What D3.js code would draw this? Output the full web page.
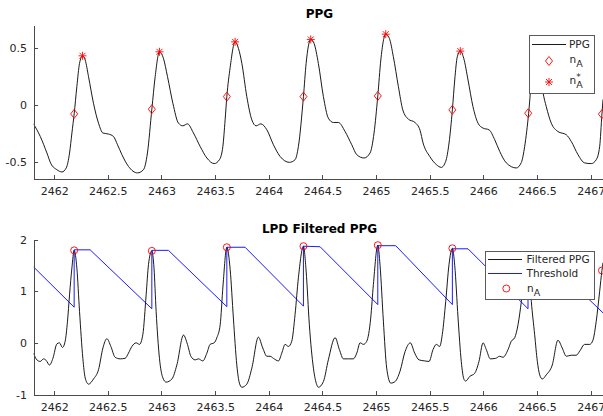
<!DOCTYPE html>
<html><head><meta charset="utf-8">
<script src="https://cdn.jsdelivr.net/npm/d3@7"></script>
<style>
body{margin:0;background:#fff}
svg{display:block;font-family:"DejaVu Sans",sans-serif}
</style>
</head><body>
<svg id="c" width="603" height="416"></svg>
<script>
// ---------- data ----------
const ppgTime=[2461.807,2461.870,2461.932,2461.969,2462.025,2462.072,2462.112,2462.143,2462.165,2462.186,2462.211,2462.236,2462.264,2462.289,2462.320,2462.366,2462.413,2462.454,2462.506,2462.552,2462.590,2462.631,2462.692,2462.776,2462.832,2462.869,2462.910,2462.941,2462.981,2463.018,2463.056,2463.106,2463.158,2463.199,2463.242,2463.298,2463.360,2463.423,2463.491,2463.540,2463.572,2463.593,2463.609,2463.640,2463.686,2463.717,2463.749,2463.795,2463.842,2463.882,2463.926,2463.982,2464.043,2464.105,2464.192,2464.245,2464.276,2464.323,2464.348,2464.391,2464.422,2464.462,2464.509,2464.555,2464.602,2464.649,2464.711,2464.773,2464.820,2464.888,2464.944,2464.981,2465.016,2465.044,2465.090,2465.124,2465.161,2465.208,2465.249,2465.301,2465.363,2465.410,2465.438,2465.500,2465.562,2465.608,2465.649,2465.680,2465.711,2465.733,2465.757,2465.785,2465.817,2465.857,2465.903,2465.950,2465.997,2466.053,2466.106,2466.152,2466.214,2466.307,2466.354,2466.385,2466.422,2466.455,2466.490,2466.528,2466.556,2466.586,2466.633,2466.695,2466.773,2466.819,2466.882,2466.944,2467.006,2467.052,2467.084,2467.105,2467.115];
const ppgValue=[-0.163,-0.273,-0.417,-0.510,-0.563,-0.583,-0.548,-0.418,-0.243,-0.076,0.162,0.365,0.431,0.394,0.249,0.017,-0.157,-0.243,-0.252,-0.273,-0.345,-0.432,-0.534,-0.591,-0.563,-0.417,-0.035,0.249,0.466,0.409,0.249,0.017,-0.157,-0.180,-0.163,-0.243,-0.360,-0.461,-0.510,-0.476,-0.360,-0.128,0.075,0.330,0.553,0.496,0.365,0.075,-0.128,-0.180,-0.163,-0.215,-0.345,-0.447,-0.499,-0.476,-0.360,0.075,0.365,0.574,0.539,0.365,0.075,-0.113,-0.151,-0.151,-0.230,-0.345,-0.432,-0.461,-0.417,-0.243,0.081,0.394,0.620,0.583,0.423,0.162,-0.041,-0.122,-0.151,-0.220,-0.330,-0.447,-0.519,-0.543,-0.490,-0.330,-0.041,0.220,0.423,0.472,0.409,0.220,-0.012,-0.157,-0.200,-0.215,-0.302,-0.403,-0.504,-0.548,-0.500,-0.360,-0.070,0.300,0.500,0.300,0.110,-0.012,-0.157,-0.230,-0.258,-0.316,-0.432,-0.504,-0.510,-0.476,-0.360,-0.078,0.050];

const filtTime=[2461.807,2461.839,2461.870,2461.900,2461.925,2461.956,2461.988,2462.025,2462.049,2462.077,2462.102,2462.124,2462.143,2462.165,2462.186,2462.211,2462.236,2462.267,2462.289,2462.320,2462.366,2462.413,2462.454,2462.491,2462.528,2462.568,2462.615,2462.661,2462.692,2462.724,2462.764,2462.795,2462.826,2462.857,2462.879,2462.910,2462.930,2462.950,2462.981,2463.013,2463.043,2463.097,2463.143,2463.205,2463.242,2463.274,2463.314,2463.344,2463.385,2463.423,2463.453,2463.491,2463.516,2463.547,2463.573,2463.609,2463.640,2463.670,2463.702,2463.726,2463.749,2463.795,2463.842,2463.903,2463.944,2463.982,2464.012,2464.043,2464.090,2464.121,2464.152,2464.183,2464.214,2464.245,2464.276,2464.323,2464.348,2464.378,2464.416,2464.447,2464.462,2464.509,2464.555,2464.618,2464.658,2464.695,2464.742,2464.788,2464.820,2464.851,2464.882,2464.913,2464.950,2464.975,2465.016,2465.037,2465.068,2465.099,2465.137,2465.177,2465.223,2465.270,2465.319,2465.360,2465.400,2465.454,2465.494,2465.531,2465.562,2465.593,2465.617,2465.649,2465.680,2465.711,2465.733,2465.764,2465.794,2465.820,2465.835,2465.873,2465.919,2465.959,2465.997,2466.027,2466.065,2466.115,2466.152,2466.183,2466.230,2466.260,2466.292,2466.323,2466.354,2466.383,2466.418,2466.447,2466.478,2466.503,2466.525,2466.549,2466.586,2466.642,2466.695,2466.735,2466.773,2466.819,2466.866,2466.898,2466.944,2466.991,2467.021,2467.052,2467.084,2467.105,2467.115];
const filtValue=[-0.20,-0.33,-0.36,-0.31,-0.34,-0.43,-0.30,-0.02,0.00,-0.09,0.03,0.42,0.93,1.45,1.79,1.45,0.61,-0.30,-0.68,-0.80,-0.70,-0.52,-0.10,0.08,-0.07,-0.28,-0.31,-0.30,-0.20,-0.07,0.00,-0.03,0.16,0.93,1.52,1.78,1.45,0.61,-0.30,-0.68,-0.76,-0.70,-0.43,0.15,-0.03,-0.26,-0.33,-0.31,-0.35,-0.20,-0.03,0.00,0.10,0.35,1.10,1.85,1.42,0.48,-0.43,-0.78,-0.86,-0.80,-0.49,0.11,-0.10,-0.26,-0.26,-0.30,-0.35,-0.20,-0.03,-0.07,0.03,0.55,1.26,1.87,1.39,0.35,-0.49,-0.81,-0.86,-0.75,-0.33,0.10,-0.13,-0.31,-0.31,-0.31,-0.20,0.00,-0.03,0.03,0.48,1.13,1.89,1.50,0.42,-0.49,-0.78,-0.75,-0.55,-0.17,0.00,-0.20,-0.33,-0.35,-0.36,-0.13,-0.03,-0.07,0.16,0.80,1.52,1.83,1.50,0.48,-0.36,-0.71,-0.74,-0.65,-0.59,-0.36,0.00,-0.13,-0.31,-0.30,-0.26,-0.28,-0.13,0.03,0.10,0.35,0.80,1.30,1.66,0.80,0.16,-0.36,-0.62,-0.70,-0.62,-0.43,0.05,-0.10,-0.26,-0.24,-0.24,-0.16,-0.03,-0.03,0.05,0.42,1.00,1.40,1.55];

const thrTime=[2461.807,2462.186,2462.186,2462.335,2462.910,2462.910,2463.065,2463.609,2463.609,2463.779,2464.323,2464.323,2464.478,2465.016,2465.016,2465.183,2465.711,2465.711,2465.857,2466.416,2466.416,2466.574,2467.115];
const thrValue=[1.47,0.69,1.80,1.80,0.66,1.79,1.79,0.70,1.85,1.85,0.71,1.87,1.86,0.74,1.88,1.88,0.74,1.82,1.82,0.66,1.66,1.66,0.58];

const nATime=[2462.186,2462.910,2463.609,2464.323,2465.016,2465.711,2466.418,2467.105];
const nAppgValue=[-0.076,-0.035,0.075,0.075,0.081,-0.041,-0.070,-0.078];
const nAfiltValue=[1.79,1.78,1.85,1.87,1.89,1.83,1.66,1.40];

const starTime=[2462.264,2462.981,2463.686,2464.391,2465.090,2465.785,2466.490];
const starValue=[0.431,0.466,0.553,0.574,0.620,0.472,0.500];

const xTicks=[2462,2462.5,2463,2463.5,2464,2464.5,2465,2465.5,2466,2466.5,2467];
const xTickLabels=["2462","2462.5","2463","2463.5","2464","2464.5","2465","2465.5","2466","2466.5","2467"];
const yTicksTop=[-0.5,0,0.5];
const yTickLabelsTop=["-0.5","0","0.5"];
const yTicksBot=[-1,0,1,2];
const yTickLabelsBot=["-1","0","1","2"];
const titles=["PPG","LPD Filtered PPG"];

// ---------- drawing ----------
const svg=d3.select("#c");
const x=d3.scaleLinear().domain([2461.807,2467.115]).range([33.5,603]);
const yT=d3.scaleLinear().domain([-0.64,0.70]).range([178.5,25]);
const yB=d3.scaleLinear().domain([-1,2]).range([394.5,239.5]);
const AX="#4a4a4a", TX="#262626";

function clip(id,y0,y1){
  svg.append("clipPath").attr("id",id).append("rect")
    .attr("x",33.5).attr("y",y0).attr("width",603-33.5).attr("height",y1-y0);
}
clip("ct",20,179);
clip("cb",235,395);

const pts=(t,v)=>t.map((d,i)=>[d,v[i]]);
function drawLine(y,data,color,cid,curve,w){
  svg.append("path").datum(data)
    .attr("clip-path",`url(#${cid})`)
    .attr("fill","none").attr("stroke",color).attr("stroke-width",w)
    .attr("d",d3.line().x(d=>x(d[0])).y(d=>y(d[1])).curve(curve));
}
const diamondPath="M0,-4.5L3.5,0L0,4.5L-3.5,0Z";
function diamond(g,px,py){
  g.append("path").attr("d",diamondPath).attr("transform",`translate(${px},${py})`)
   .attr("fill","none").attr("stroke","#ff0000").attr("stroke-width",0.9);
}
function star(g,px,py){
  g.append("path").attr("d","M-4,0H4M0,-4V4M-3,-3L3,3M-3,3L3,-3")
   .attr("transform",`translate(${px},${py})`)
   .attr("fill","none").attr("stroke","#ff0000").attr("stroke-width",0.9);
}
function circ(g,px,py){
  g.append("circle").attr("cx",px).attr("cy",py).attr("r",3.5)
   .attr("fill","none").attr("stroke","#ff0000").attr("stroke-width",0.9);
}

function axes(y,yTicks,yLabels,bottomY){
  const gx=svg.append("g").attr("transform",`translate(0,${bottomY})`)
    .call(d3.axisBottom(x).tickValues(xTicks).tickFormat((d,i)=>xTickLabels[i])
      .tickSizeInner(-4).tickSizeOuter(0).tickPadding(8.5));
  const gy=svg.append("g").attr("transform","translate(33.5,0)")
    .call(d3.axisLeft(y).tickValues(yTicks).tickFormat((d,i)=>yLabels[i])
      .tickSizeInner(-4).tickSizeOuter(0).tickPadding(6.5));
  [gx,gy].forEach(g=>{
    g.selectAll("path,line").attr("stroke",AX).attr("shape-rendering","crispEdges");
    g.selectAll("text").attr("fill",TX).style("font-size","11px").style("font-family","DejaVu Sans");
  });
}

// top plot
drawLine(yT,pts(ppgTime,ppgValue),"#000","ct",d3.curveMonotoneX,0.9);
const gT=svg.append("g").attr("clip-path","url(#ct)");
nATime.forEach((t,i)=>diamond(gT,x(t),yT(nAppgValue[i])));
starTime.forEach((t,i)=>star(gT,x(t),yT(starValue[i])));
axes(yT,yTicksTop,yTickLabelsTop,178.5);

// bottom plot
drawLine(yB,pts(filtTime,filtValue),"#000","cb",d3.curveMonotoneX,0.9);
drawLine(yB,pts(thrTime,thrValue),"#0000ff","cb",d3.curveLinear,0.9);
const gB=svg.append("g");
nATime.forEach((t,i)=>circ(gB,x(t),yB(nAfiltValue[i])));
axes(yB,yTicksBot,yTickLabelsBot,394.5);

// titles
svg.append("text").attr("x",319.5).attr("y",18.3).attr("text-anchor","middle")
  .style("font-weight","bold").style("font-size","12px").attr("fill","#000").text(titles[0]);
svg.append("text").attr("x",319.5).attr("y",233.3).attr("text-anchor","middle")
  .style("font-weight","bold").style("font-size","12px").attr("fill","#000").text(titles[1]);

// legends
const LF="10.5px";
function legBox(x0,y0,x1,y1){
  svg.append("rect").attr("x",x0+0.5).attr("y",y0+0.5).attr("width",x1-x0).attr("height",y1-y0)
    .attr("fill","#fff").attr("stroke","#5a5a5a").attr("stroke-width",1).attr("shape-rendering","crispEdges");
}
function legText(tx,ty,str,sub,sup){
  const t=svg.append("text").attr("x",tx).attr("y",ty).attr("fill",TX).style("font-size",LF);
  t.append("tspan").text(str);
  if(sub){
    t.append("tspan").attr("dy",4).style("font-size","9.5px").text(sub);
  }
  if(sup){
    svg.append("text").attr("x",tx+6.7).attr("y",ty-4).attr("fill",TX).style("font-size","9px").text(sup);
  }
}
// top legend
legBox(528.5,35,593.5,92.5);
svg.append("line").attr("x1",532).attr("x2",566).attr("y1",44.5).attr("y2",44.5).attr("stroke","#000").attr("stroke-width",0.9);
legText(569,48.3,"PPG");
diamond(svg,549,61);
legText(569.5,63,"n","A");
star(svg,549,82);
legText(569.5,84,"n","A","*");

// bottom legend
legBox(484.5,250.5,593.5,299);
svg.append("line").attr("x1",488).attr("x2",522).attr("y1",259.5).attr("y2",259.5).attr("stroke","#000").attr("stroke-width",0.9);
legText(526.5,263.3,"Filtered PPG");
svg.append("line").attr("x1",488).attr("x2",522).attr("y1",273.5).attr("y2",273.5).attr("stroke","#0000ff").attr("stroke-width",0.9);
legText(526.5,277.3,"Threshold");
circ(svg,506.3,288.5);
legText(527,291.5,"n","A");
</script>
</body></html>
